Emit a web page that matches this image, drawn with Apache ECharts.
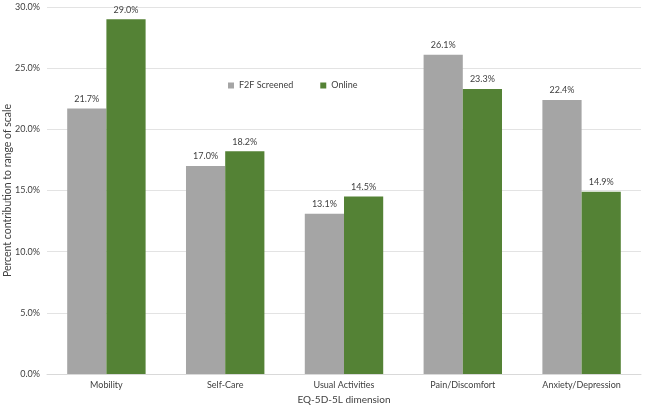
<!DOCTYPE html>
<html>
<head>
<meta charset="utf-8">
<script src="https://cdn.jsdelivr.net/npm/echarts@6/dist/echarts.min.js"></script>
<style>html,body{margin:0;padding:0;background:#fff}#c{width:645px;height:406px}</style>
</head>
<body>
<div id="c"></div>
<script>
var categories = ['Mobility', 'Self-Care', 'Usual Activities', 'Pain/Discomfort', 'Anxiety/Depression'];
var f2fScreened = [21.7, 17.0, 13.1, 26.1, 22.4];
var online = [29.0, 18.2, 14.5, 23.3, 14.9];
var seriesNames = ['F2F Screened', 'Online'];
var yTicks = { min: 0, max: 30, interval: 5 };
var font = 'Lato, "Open Sans", sans-serif';

var chart = echarts.init(document.getElementById('c'), null, { renderer: 'canvas' });
function lbl() {
  return { show: true, position: 'top', distance: 5, fontSize: 9, fontFamily: font, color: '#404040',
    formatter: function (p) { return p.value.toFixed(1) + '%'; } };
}
chart.setOption({
  animation: false,
  textStyle: { fontFamily: font },
  grid: { left: 47, right: 4, top: 7, bottom: 32, containLabel: false, outerBoundsMode: 'none' },
  legend: {
    data: seriesNames, left: 223, top: 76, itemGap: 27, itemWidth: 6, itemHeight: 6, icon: 'rect',
    textStyle: { fontSize: 9, color: '#404040', fontFamily: font }
  },
  xAxis: {
    type: 'category', data: categories,
    name: 'EQ-5D-5L dimension', nameLocation: 'middle', nameGap: 21, nameMoveOverlap: false,
    nameTextStyle: { fontSize: 10, color: '#404040', fontFamily: font },
    axisLine: { lineStyle: { color: '#d9d9d9' } }, axisTick: { show: false },
    axisLabel: { fontSize: 9, color: '#404040', margin: 7, fontFamily: font }
  },
  yAxis: {
    type: 'value', min: yTicks.min, max: yTicks.max, interval: yTicks.interval,
    name: 'Percent contribution to range of scale', nameLocation: 'middle', nameGap: 34, nameRotate: 90,
    nameMoveOverlap: false,
    nameTextStyle: { fontSize: 10.5, color: '#404040', fontFamily: font },
    axisLabel: { fontSize: 9, color: '#404040', margin: 7, fontFamily: font,
      formatter: function (v) { return v.toFixed(1) + '%'; } },
    splitLine: { lineStyle: { color: '#e3e3e3' } },
    axisLine: { show: false }, axisTick: { show: false }
  },
  series: [
    { name: seriesNames[0], type: 'bar', data: f2fScreened, itemStyle: { color: '#a5a5a5' },
      barGap: '0%', barCategoryGap: '34%', label: lbl() },
    { name: seriesNames[1], type: 'bar', data: online, itemStyle: { color: '#548235' },
      barGap: '0%', barCategoryGap: '34%', label: lbl() }
  ]
});
</script>
</body>
</html>
